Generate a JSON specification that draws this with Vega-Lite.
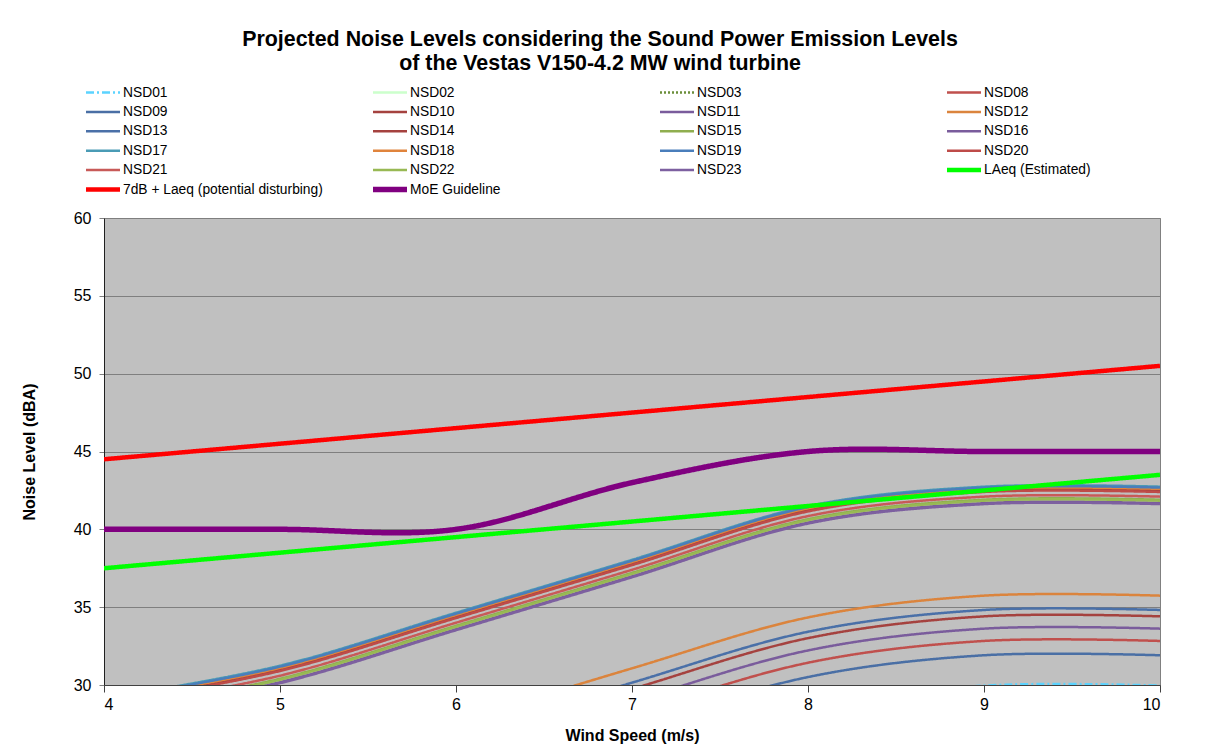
{
  "$schema": "https://vega.github.io/schema/vega-lite/v6.json",
  "width": 1056,
  "height": 467,
  "autosize": {"type": "none"},
  "padding": {"left": 104, "top": 218, "right": 55, "bottom": 67},
  "background": "white",
  "title": {
    "text": ["Projected Noise Levels considering the Sound Power Emission Levels", "of the Vestas V150-4.2 MW wind turbine"],
    "font": "Liberation Sans", "fontSize": 21.4, "fontWeight": "bold", "color": "#000000",
    "lineHeight": 24, "anchor": "middle", "frame": "group", "dx": -32, "offset": 9
  },
  "config": {
    "font": "Liberation Sans",
    "view": {"fill": "#C0C0C0", "stroke": "#808080", "strokeWidth": 1},
    "axis": {"labelFont": "Liberation Sans", "titleFont": "Liberation Sans", "labelColor": "#000000", "titleColor": "#000000", "labelFontSize": 16, "titleFontSize": 16, "titleFontWeight": "bold"}
  },
  "data": {"values": [
    {"s":"NSD01","x":4,"y":16.36},{"s":"NSD01","x":5,"y":18.46},{"s":"NSD01","x":6,"y":21.86},{"s":"NSD01","x":7,"y":25.29},{"s":"NSD01","x":8,"y":28.56},{"s":"NSD01","x":9,"y":29.96},{"s":"NSD01","x":10,"y":29.96},
    {"s":"NSD02","x":4,"y":13.9},{"s":"NSD02","x":5,"y":16.0},{"s":"NSD02","x":6,"y":19.4},{"s":"NSD02","x":7,"y":22.83},{"s":"NSD02","x":8,"y":26.1},{"s":"NSD02","x":9,"y":27.5},{"s":"NSD02","x":10,"y":27.5},
    {"s":"NSD03","x":4,"y":13.2},{"s":"NSD03","x":5,"y":15.3},{"s":"NSD03","x":6,"y":18.7},{"s":"NSD03","x":7,"y":22.13},{"s":"NSD03","x":8,"y":25.4},{"s":"NSD03","x":9,"y":26.8},{"s":"NSD03","x":10,"y":26.8},
    {"s":"NSD08","x":4,"y":19.23},{"s":"NSD08","x":5,"y":21.33},{"s":"NSD08","x":6,"y":24.73},{"s":"NSD08","x":7,"y":28.16},{"s":"NSD08","x":8,"y":31.43},{"s":"NSD08","x":9,"y":32.83},{"s":"NSD08","x":10,"y":32.83},
    {"s":"NSD09","x":4,"y":18.31},{"s":"NSD09","x":5,"y":20.41},{"s":"NSD09","x":6,"y":23.81},{"s":"NSD09","x":7,"y":27.24},{"s":"NSD09","x":8,"y":30.51},{"s":"NSD09","x":9,"y":31.91},{"s":"NSD09","x":10,"y":31.91},
    {"s":"NSD10","x":4,"y":20.81},{"s":"NSD10","x":5,"y":22.91},{"s":"NSD10","x":6,"y":26.31},{"s":"NSD10","x":7,"y":29.74},{"s":"NSD10","x":8,"y":33.01},{"s":"NSD10","x":9,"y":34.41},{"s":"NSD10","x":10,"y":34.41},
    {"s":"NSD11","x":4,"y":20.02},{"s":"NSD11","x":5,"y":22.12},{"s":"NSD11","x":6,"y":25.52},{"s":"NSD11","x":7,"y":28.95},{"s":"NSD11","x":8,"y":32.22},{"s":"NSD11","x":9,"y":33.62},{"s":"NSD11","x":10,"y":33.62},
    {"s":"NSD12","x":4,"y":22.14},{"s":"NSD12","x":5,"y":24.24},{"s":"NSD12","x":6,"y":27.64},{"s":"NSD12","x":7,"y":31.07},{"s":"NSD12","x":8,"y":34.34},{"s":"NSD12","x":9,"y":35.74},{"s":"NSD12","x":10,"y":35.74},
    {"s":"NSD13","x":4,"y":21.22},{"s":"NSD13","x":5,"y":23.32},{"s":"NSD13","x":6,"y":26.72},{"s":"NSD13","x":7,"y":30.15},{"s":"NSD13","x":8,"y":33.42},{"s":"NSD13","x":9,"y":34.82},{"s":"NSD13","x":10,"y":34.82},
    {"s":"NSD14","x":4,"y":28.9},{"s":"NSD14","x":5,"y":31.0},{"s":"NSD14","x":6,"y":34.4},{"s":"NSD14","x":7,"y":37.8},{"s":"NSD14","x":8,"y":41.25},{"s":"NSD14","x":9,"y":42.5},{"s":"NSD14","x":10,"y":42.5},
    {"s":"NSD15","x":4,"y":28.3},{"s":"NSD15","x":5,"y":30.4},{"s":"NSD15","x":6,"y":33.8},{"s":"NSD15","x":7,"y":37.2},{"s":"NSD15","x":8,"y":40.65},{"s":"NSD15","x":9,"y":41.9},{"s":"NSD15","x":10,"y":41.9},
    {"s":"NSD16","x":4,"y":28.08},{"s":"NSD16","x":5,"y":30.18},{"s":"NSD16","x":6,"y":33.58},{"s":"NSD16","x":7,"y":36.98},{"s":"NSD16","x":8,"y":40.43},{"s":"NSD16","x":9,"y":41.68},{"s":"NSD16","x":10,"y":41.68},
    {"s":"NSD17","x":4,"y":29.14},{"s":"NSD17","x":5,"y":31.24},{"s":"NSD17","x":6,"y":34.64},{"s":"NSD17","x":7,"y":38.04},{"s":"NSD17","x":8,"y":41.49},{"s":"NSD17","x":9,"y":42.74},{"s":"NSD17","x":10,"y":42.74},
    {"s":"NSD18","x":4,"y":29.0},{"s":"NSD18","x":5,"y":31.1},{"s":"NSD18","x":6,"y":34.5},{"s":"NSD18","x":7,"y":37.9},{"s":"NSD18","x":8,"y":41.35},{"s":"NSD18","x":9,"y":42.6},{"s":"NSD18","x":10,"y":42.6},
    {"s":"NSD19","x":4,"y":29.08},{"s":"NSD19","x":5,"y":31.18},{"s":"NSD19","x":6,"y":34.58},{"s":"NSD19","x":7,"y":37.98},{"s":"NSD19","x":8,"y":41.43},{"s":"NSD19","x":9,"y":42.68},{"s":"NSD19","x":10,"y":42.68},
    {"s":"NSD20","x":4,"y":28.8},{"s":"NSD20","x":5,"y":30.9},{"s":"NSD20","x":6,"y":34.3},{"s":"NSD20","x":7,"y":37.7},{"s":"NSD20","x":8,"y":41.15},{"s":"NSD20","x":9,"y":42.4},{"s":"NSD20","x":10,"y":42.4},
    {"s":"NSD21","x":4,"y":28.5},{"s":"NSD21","x":5,"y":30.6},{"s":"NSD21","x":6,"y":34.0},{"s":"NSD21","x":7,"y":37.4},{"s":"NSD21","x":8,"y":40.85},{"s":"NSD21","x":9,"y":42.1},{"s":"NSD21","x":10,"y":42.1},
    {"s":"NSD22","x":4,"y":28.24},{"s":"NSD22","x":5,"y":30.34},{"s":"NSD22","x":6,"y":33.74},{"s":"NSD22","x":7,"y":37.14},{"s":"NSD22","x":8,"y":40.59},{"s":"NSD22","x":9,"y":41.84},{"s":"NSD22","x":10,"y":41.84},
    {"s":"NSD23","x":4,"y":28.02},{"s":"NSD23","x":5,"y":30.12},{"s":"NSD23","x":6,"y":33.52},{"s":"NSD23","x":7,"y":36.92},{"s":"NSD23","x":8,"y":40.37},{"s":"NSD23","x":9,"y":41.62},{"s":"NSD23","x":10,"y":41.62},
    {"s":"LAeq (Estimated)","x":4,"y":37.5},{"s":"LAeq (Estimated)","x":5,"y":38.5},{"s":"LAeq (Estimated)","x":6,"y":39.5},{"s":"LAeq (Estimated)","x":7,"y":40.5},{"s":"LAeq (Estimated)","x":8,"y":41.5},{"s":"LAeq (Estimated)","x":9,"y":42.5},{"s":"LAeq (Estimated)","x":10,"y":43.5},
    {"s":"7dB + Laeq (potential disturbing)","x":4,"y":44.5},{"s":"7dB + Laeq (potential disturbing)","x":5,"y":45.5},{"s":"7dB + Laeq (potential disturbing)","x":6,"y":46.5},{"s":"7dB + Laeq (potential disturbing)","x":7,"y":47.5},{"s":"7dB + Laeq (potential disturbing)","x":8,"y":48.5},{"s":"7dB + Laeq (potential disturbing)","x":9,"y":49.5},{"s":"7dB + Laeq (potential disturbing)","x":10,"y":50.5},
    {"s":"MoE Guideline","x":4,"y":40},{"s":"MoE Guideline","x":5,"y":40},{"s":"MoE Guideline","x":6,"y":40},{"s":"MoE Guideline","x":7,"y":43},{"s":"MoE Guideline","x":8,"y":45},{"s":"MoE Guideline","x":9,"y":45},{"s":"MoE Guideline","x":10,"y":45}
  ]},
  "mark": {"type": "line", "interpolate": "cardinal", "clip": true},
  "encoding": {
    "x": {"field": "x", "type": "quantitative",
      "scale": {"domain": [4, 10], "nice": false},
      "axis": {"title": "Wind Speed (m/s)", "values": [4,5,6,7,8,9,10], "grid": false, "tickSize": 7, "tickColor": "#404040", "domainColor": "#404040", "labelPadding": 4, "titlePadding": 15}},
    "y": {"field": "y", "type": "quantitative",
      "scale": {"domain": [30, 60], "nice": false},
      "axis": {"title": "Noise Level (dBA)", "values": [30,35,40,45,50,55,60], "grid": true, "gridColor": "#7F7F7F", "gridWidth": 1.2, "tickSize": 5, "tickColor": "#808080", "domainColor": "#202020", "labelPadding": 8, "titlePadding": 36}},
    "detail": {"field": "s"},
    "order": {"field": "x", "type": "quantitative"},
    "color": {"field": "s", "type": "nominal",
      "scale": {
        "domain": ["NSD01","NSD02","NSD03","NSD08","NSD09","NSD10","NSD11","NSD12","NSD13","NSD14","NSD15","NSD16","NSD17","NSD18","NSD19","NSD20","NSD21","NSD22","NSD23","LAeq (Estimated)","7dB + Laeq (potential disturbing)","MoE Guideline"],
        "range": ["#5BD3FF","#CCFFCC","#6B8E3A","#C0504D","#4A6FA5","#A5423F","#7A5C9C","#DB843D","#4A70A8","#A5423F","#8FAE4F","#7A5C9C","#4A9BB5","#E0843C","#4A7EBB","#BE4B48","#C85A58","#98B954","#7D60A0","#00FF00","#FF0000","#800080"]
      },
      "legend": {
        "title": null, "orient": "none", "legendX": -21, "legendY": -135,
        "direction": "horizontal", "columns": 4, "gridAlign": "all",
        "columnPadding": 47, "rowPadding": 0.4, "clipHeight": 19,
        "symbolType": "stroke", "symbolSize": 1156, "symbolOffset": 0,
        "labelFont": "Liberation Sans", "labelFontSize": 13.8, "labelColor": "#000000", "labelOffset": 0, "labelLimit": 400, "padding": 0
      }
    },
    "strokeDash": {"field": "s", "type": "nominal",
      "scale": {
        "domain": ["NSD01","NSD02","NSD03","NSD08","NSD09","NSD10","NSD11","NSD12","NSD13","NSD14","NSD15","NSD16","NSD17","NSD18","NSD19","NSD20","NSD21","NSD22","NSD23","LAeq (Estimated)","7dB + Laeq (potential disturbing)","MoE Guideline"],
        "range": [[8,3,2,3],[1,0],[2,2],[1,0],[1,0],[1,0],[1,0],[1,0],[1,0],[1,0],[1,0],[1,0],[1,0],[1,0],[1,0],[1,0],[1,0],[1,0],[1,0],[1,0],[1,0],[1,0]]
      }
    },
    "strokeWidth": {"field": "s", "type": "ordinal",
      "scale": {
        "type": "ordinal",
        "domain": ["NSD01","NSD02","NSD03","NSD08","NSD09","NSD10","NSD11","NSD12","NSD13","NSD14","NSD15","NSD16","NSD17","NSD18","NSD19","NSD20","NSD21","NSD22","NSD23","LAeq (Estimated)","7dB + Laeq (potential disturbing)","MoE Guideline"],
        "range": [2.5,2.5,2.5,2.5,2.5,2.5,2.5,2.5,2.5,2.5,2.5,2.5,2.5,2.5,2.5,2.5,2.5,2.5,2.5,4.5,4.5,5.5]
      }
    }
  }
}
